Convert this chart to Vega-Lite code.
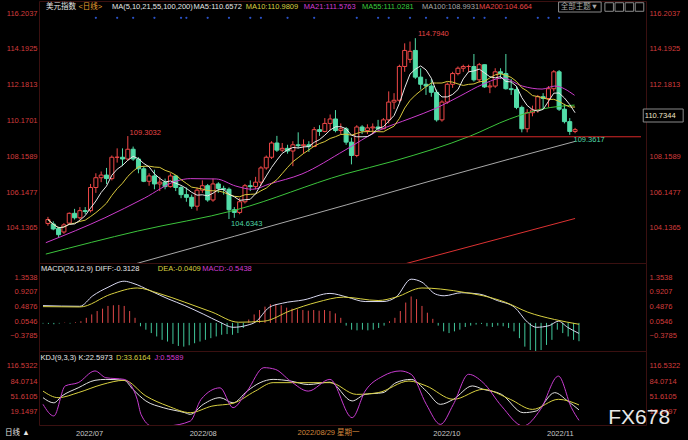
{
"$schema": "https://vega.github.io/schema/vega-lite/v6.json",
"background": "#000000",
"padding": 0,
"spacing": 0,
"bounds": "flush",
"config": {
  "font": "Liberation Sans, Noto Sans CJK SC",
  "view": {"stroke": "#3a1010"},
  "axis": {"grid": false, "ticks": false, "domain": false, "labelFontSize": 7.5, "labelColor": "#d23c3c", "labelFont": "Liberation Sans"},
  "text": {"fontSize": 7.5, "align": "left", "baseline": "middle"}
},
"datasets": {
  "k": [
    {"i":0,"o":104.38,"h":104.75,"l":104.25,"c":104.6,"m":-0.02},
    {"i":1,"o":104.35,"h":104.5,"l":104.0,"c":104.07,"m":-0.03},
    {"i":2,"o":104.1,"h":104.2,"l":103.6,"c":103.75,"m":-0.04},
    {"i":3,"o":103.9,"h":104.4,"l":103.8,"c":104.3,"m":-0.02},
    {"i":4,"o":104.4,"h":105.0,"l":104.3,"c":104.95,"m":0.01},
    {"i":5,"o":104.95,"h":105.2,"l":104.6,"c":104.7,"m":-0.02},
    {"i":6,"o":104.7,"h":105.3,"l":104.6,"c":105.1,"m":0.02},
    {"i":7,"o":105.1,"h":105.3,"l":104.9,"c":105.05,"m":0.05},
    {"i":8,"o":105.1,"h":106.6,"l":105.0,"c":106.4,"m":0.15},
    {"i":9,"o":106.4,"h":107.2,"l":106.1,"c":106.95,"m":0.25},
    {"i":10,"o":106.95,"h":107.3,"l":106.7,"c":107.1,"m":0.35},
    {"i":11,"o":107.1,"h":107.5,"l":106.6,"c":106.9,"m":0.42},
    {"i":12,"o":106.9,"h":108.2,"l":106.8,"c":108.1,"m":0.5},
    {"i":13,"o":108.1,"h":108.6,"l":107.8,"c":108.1,"m":0.52},
    {"i":14,"o":108.1,"h":108.6,"l":107.6,"c":108.0,"m":0.53},
    {"i":15,"o":108.0,"h":109.29,"l":107.9,"c":108.55,"m":0.5},
    {"i":16,"o":108.55,"h":108.7,"l":107.9,"c":108.0,"m":0.35},
    {"i":17,"o":108.0,"h":108.1,"l":107.2,"c":107.45,"m":0.15},
    {"i":18,"o":107.45,"h":107.6,"l":106.7,"c":106.75,"m":-0.1},
    {"i":19,"o":106.75,"h":107.2,"l":106.5,"c":107.05,"m":-0.2},
    {"i":20,"o":107.05,"h":107.4,"l":106.3,"c":106.6,"m":-0.3},
    {"i":21,"o":106.6,"h":107.0,"l":106.2,"c":106.7,"m":-0.4},
    {"i":22,"o":106.7,"h":106.9,"l":106.3,"c":106.45,"m":-0.5},
    {"i":23,"o":106.45,"h":107.2,"l":106.4,"c":107.05,"m":-0.55},
    {"i":24,"o":107.05,"h":107.1,"l":106.2,"c":106.4,"m":-0.62},
    {"i":25,"o":106.4,"h":106.5,"l":105.8,"c":106.0,"m":-0.68},
    {"i":26,"o":106.0,"h":106.4,"l":105.6,"c":105.85,"m":-0.7},
    {"i":27,"o":105.85,"h":106.0,"l":105.2,"c":105.35,"m":-0.66},
    {"i":28,"o":105.35,"h":106.4,"l":105.1,"c":106.25,"m":-0.6},
    {"i":29,"o":106.25,"h":106.8,"l":106.1,"c":106.5,"m":-0.55},
    {"i":30,"o":106.5,"h":106.6,"l":105.6,"c":105.7,"m":-0.5},
    {"i":31,"o":105.7,"h":106.9,"l":105.6,"c":106.6,"m":-0.45},
    {"i":32,"o":106.6,"h":106.7,"l":106.1,"c":106.35,"m":-0.4},
    {"i":33,"o":106.35,"h":106.5,"l":106.0,"c":106.3,"m":-0.35},
    {"i":34,"o":106.3,"h":106.4,"l":104.63,"c":105.15,"m":-0.33},
    {"i":35,"o":105.15,"h":105.3,"l":104.7,"c":105.0,"m":-0.35},
    {"i":36,"o":105.0,"h":105.8,"l":104.9,"c":105.6,"m":-0.3},
    {"i":37,"o":105.6,"h":106.6,"l":105.5,"c":106.5,"m":-0.15},
    {"i":38,"o":106.5,"h":106.8,"l":106.2,"c":106.45,"m":0.1},
    {"i":39,"o":106.45,"h":107.0,"l":106.3,"c":106.7,"m":0.25},
    {"i":40,"o":106.7,"h":107.6,"l":106.5,"c":107.5,"m":0.38},
    {"i":41,"o":107.5,"h":108.2,"l":107.4,"c":108.1,"m":0.48},
    {"i":42,"o":108.1,"h":109.0,"l":108.0,"c":108.9,"m":0.55},
    {"i":43,"o":108.9,"h":109.3,"l":108.4,"c":108.5,"m":0.56},
    {"i":44,"o":108.5,"h":108.9,"l":108.4,"c":108.6,"m":0.52},
    {"i":45,"o":108.6,"h":108.8,"l":108.3,"c":108.45,"m":0.45},
    {"i":46,"o":108.45,"h":109.0,"l":107.6,"c":108.8,"m":0.42},
    {"i":47,"o":108.8,"h":109.5,"l":108.6,"c":108.75,"m":0.4},
    {"i":48,"o":108.75,"h":109.1,"l":108.3,"c":108.8,"m":0.38},
    {"i":49,"o":108.8,"h":109.0,"l":108.4,"c":108.7,"m":0.36},
    {"i":50,"o":108.7,"h":109.8,"l":108.7,"c":109.65,"m":0.38},
    {"i":51,"o":109.65,"h":109.9,"l":109.3,"c":109.55,"m":0.36},
    {"i":52,"o":109.55,"h":110.3,"l":109.5,"c":110.0,"m":0.38},
    {"i":53,"o":110.0,"h":110.5,"l":109.6,"c":110.25,"m":0.35},
    {"i":54,"o":110.25,"h":110.75,"l":109.5,"c":109.6,"m":0.28},
    {"i":55,"o":109.6,"h":110.0,"l":109.4,"c":109.7,"m":0.15},
    {"i":56,"o":109.7,"h":109.8,"l":108.8,"c":108.95,"m":-0.08},
    {"i":57,"o":108.95,"h":109.2,"l":107.7,"c":108.2,"m":-0.2},
    {"i":58,"o":108.2,"h":109.9,"l":108.1,"c":109.8,"m":-0.22},
    {"i":59,"o":109.8,"h":109.9,"l":109.4,"c":109.6,"m":-0.2},
    {"i":60,"o":109.6,"h":109.95,"l":109.4,"c":109.75,"m":-0.22},
    {"i":61,"o":109.75,"h":110.0,"l":109.4,"c":109.8,"m":-0.2},
    {"i":62,"o":109.8,"h":110.2,"l":109.6,"c":109.7,"m":-0.15},
    {"i":63,"o":109.7,"h":110.3,"l":109.7,"c":110.2,"m":-0.08},
    {"i":64,"o":110.2,"h":111.8,"l":110.0,"c":111.2,"m":0.05},
    {"i":65,"o":111.2,"h":111.7,"l":110.8,"c":111.3,"m":0.15},
    {"i":66,"o":111.3,"h":113.3,"l":111.2,"c":113.2,"m":0.35},
    {"i":67,"o":113.2,"h":114.5,"l":112.9,"c":114.1,"m":0.6},
    {"i":68,"o":113.6,"h":114.6,"l":113.4,"c":114.05,"m":0.78},
    {"i":69,"o":114.1,"h":114.79,"l":112.5,"c":112.6,"m":0.7},
    {"i":70,"o":112.6,"h":113.1,"l":111.9,"c":112.2,"m":0.5},
    {"i":71,"o":112.2,"h":112.5,"l":111.6,"c":112.1,"m":0.3},
    {"i":72,"o":112.1,"h":112.5,"l":111.5,"c":111.75,"m":0.12},
    {"i":73,"o":111.75,"h":111.9,"l":110.1,"c":110.2,"m":-0.08},
    {"i":74,"o":110.2,"h":111.3,"l":110.1,"c":111.2,"m":-0.25},
    {"i":75,"o":111.2,"h":112.3,"l":111.1,"c":112.2,"m":-0.3},
    {"i":76,"o":112.2,"h":112.9,"l":112.0,"c":112.8,"m":-0.25},
    {"i":77,"o":112.8,"h":113.2,"l":112.7,"c":113.1,"m":-0.2},
    {"i":78,"o":113.1,"h":113.3,"l":112.9,"c":113.2,"m":-0.12},
    {"i":79,"o":113.2,"h":113.3,"l":112.9,"c":113.2,"m":-0.08},
    {"i":80,"o":113.2,"h":113.9,"l":112.35,"c":112.45,"m":-0.05},
    {"i":81,"o":112.45,"h":113.4,"l":112.3,"c":113.3,"m":-0.03},
    {"i":82,"o":113.3,"h":113.3,"l":112.0,"c":112.05,"m":-0.1},
    {"i":83,"o":112.05,"h":112.3,"l":111.7,"c":112.1,"m":-0.12},
    {"i":84,"o":112.1,"h":113.1,"l":112.0,"c":112.9,"m":-0.08},
    {"i":85,"o":112.9,"h":113.1,"l":112.5,"c":112.8,"m":-0.1},
    {"i":86,"o":112.8,"h":113.9,"l":111.9,"c":111.95,"m":-0.15},
    {"i":87,"o":111.95,"h":112.5,"l":111.6,"c":111.9,"m":-0.25},
    {"i":88,"o":111.9,"h":112.1,"l":110.8,"c":110.9,"m":-0.45},
    {"i":89,"o":110.9,"h":111.0,"l":109.5,"c":109.7,"m":-0.7},
    {"i":90,"o":109.7,"h":110.8,"l":109.5,"c":110.6,"m":-0.8},
    {"i":91,"o":110.6,"h":111.0,"l":110.4,"c":110.75,"m":-0.85},
    {"i":92,"o":110.75,"h":111.6,"l":110.6,"c":111.5,"m":-0.8},
    {"i":93,"o":111.5,"h":111.7,"l":110.8,"c":111.4,"m":-0.65},
    {"i":94,"o":111.4,"h":112.1,"l":110.9,"c":111.95,"m":-0.5},
    {"i":95,"o":111.95,"h":113.0,"l":111.8,"c":112.9,"m":-0.2},
    {"i":96,"o":112.9,"h":113.0,"l":110.7,"c":110.8,"m":-0.3},
    {"i":97,"o":110.8,"h":111.1,"l":110.0,"c":110.1,"m":-0.4},
    {"i":98,"o":110.1,"h":110.3,"l":109.36,"c":109.55,"m":-0.5},
    {"i":99,"o":109.55,"h":109.75,"l":109.45,"c":109.65,"m":-0.54}
  ],
  "ma": [
    {"s":"MA21","i":-0.4,"v":103.3},{"s":"MA21","i":10.7,"v":104.7},{"s":"MA21","i":18.1,"v":105.8},{"s":"MA21","i":24.2,"v":106.77},{"s":"MA21","i":26.8,"v":106.9},{"s":"MA21","i":31.6,"v":106.88},{"s":"MA21","i":35.3,"v":106.48},{"s":"MA21","i":38.4,"v":106.3},{"s":"MA21","i":41.6,"v":106.6},{"s":"MA21","i":47.7,"v":107.16},{"s":"MA21","i":55.8,"v":108.5},{"s":"MA21","i":61.9,"v":109.57},{"s":"MA21","i":68.2,"v":110.3},{"s":"MA21","i":73,"v":110.87},{"s":"MA21","i":77.4,"v":111.54},{"s":"MA21","i":81.7,"v":112.2},{"s":"MA21","i":85.4,"v":112.55},{"s":"MA21","i":89.1,"v":112.1},{"s":"MA21","i":92.8,"v":111.93},{"s":"MA21","i":95.2,"v":112.1},{"s":"MA21","i":98.9,"v":111.58},
    {"s":"MA55","i":-0.4,"v":102.66},{"s":"MA55","i":16.8,"v":103.95},{"s":"MA55","i":35.3,"v":105.14},{"s":"MA55","i":55.8,"v":107.16},{"s":"MA55","i":65,"v":107.89},{"s":"MA55","i":79.3,"v":109.29},{"s":"MA55","i":86.7,"v":110.25},{"s":"MA55","i":92.8,"v":110.81},{"s":"MA55","i":98.9,"v":111.03},
    {"s":"MA100","i":10,"v":101.57},{"s":"MA100","i":17,"v":102.16},{"s":"MA100","i":35,"v":103.66},{"s":"MA100","i":56,"v":105.42},{"s":"MA100","i":74,"v":106.95},{"s":"MA100","i":86.7,"v":108.0},{"s":"MA100","i":99,"v":108.99},
    {"s":"MA200","i":60,"v":101.55},{"s":"MA200","i":66.9,"v":102.1},{"s":"MA200","i":99,"v":104.66}
  ],
  "macdl": [
    {"s":"DIFF","i":0,"v":0.51},{"s":"DIFF","i":6.8,"v":0.49},{"s":"DIFF","i":9.2,"v":0.8},{"s":"DIFF","i":12,"v":1.05},{"s":"DIFF","i":15,"v":1.23},{"s":"DIFF","i":16.6,"v":1.17},{"s":"DIFF","i":19.8,"v":0.95},{"s":"DIFF","i":23.1,"v":0.71},{"s":"DIFF","i":26.2,"v":0.51},{"s":"DIFF","i":29.6,"v":0.26},{"s":"DIFF","i":32.7,"v":0.02},{"s":"DIFF","i":35.1,"v":-0.13},{"s":"DIFF","i":37.7,"v":-0.07},{"s":"DIFF","i":39.2,"v":0.02},{"s":"DIFF","i":41.8,"v":0.46},{"s":"DIFF","i":44.2,"v":0.58},{"s":"DIFF","i":48.2,"v":0.68},{"s":"DIFF","i":53,"v":0.87},{"s":"DIFF","i":56.2,"v":0.76},{"s":"DIFF","i":59.5,"v":0.63},{"s":"DIFF","i":62.8,"v":0.63},{"s":"DIFF","i":65.2,"v":0.76},{"s":"DIFF","i":68,"v":1.29},{"s":"DIFF","i":70,"v":1.2},{"s":"DIFF","i":72.5,"v":0.85},{"s":"DIFF","i":74.1,"v":0.8},{"s":"DIFF","i":77.3,"v":0.89},{"s":"DIFF","i":80.6,"v":0.85},{"s":"DIFF","i":83.9,"v":0.66},{"s":"DIFF","i":87.1,"v":0.46},{"s":"DIFF","i":89.5,"v":0.02},{"s":"DIFF","i":91.1,"v":-0.13},{"s":"DIFF","i":93.5,"v":-0.08},{"s":"DIFF","i":95.2,"v":0.05},{"s":"DIFF","i":96.9,"v":-0.13},{"s":"DIFF","i":99,"v":-0.31},
    {"s":"DEA","i":0,"v":0.48},{"s":"DEA","i":6.8,"v":0.47},{"s":"DEA","i":12.6,"v":0.85},{"s":"DEA","i":17.4,"v":1.03},{"s":"DEA","i":21.4,"v":0.87},{"s":"DEA","i":26.2,"v":0.61},{"s":"DEA","i":31.2,"v":0.32},{"s":"DEA","i":36.1,"v":0.02},{"s":"DEA","i":40.8,"v":0.05},{"s":"DEA","i":45.7,"v":0.36},{"s":"DEA","i":50.6,"v":0.61},{"s":"DEA","i":55.5,"v":0.76},{"s":"DEA","i":61.9,"v":0.66},{"s":"DEA","i":65.2,"v":0.76},{"s":"DEA","i":70,"v":1.03},{"s":"DEA","i":73.4,"v":1.0},{"s":"DEA","i":78.2,"v":0.89},{"s":"DEA","i":81.3,"v":0.8},{"s":"DEA","i":85.4,"v":0.61},{"s":"DEA","i":89.5,"v":0.32},{"s":"DEA","i":94.5,"v":0.1},{"s":"DEA","i":99,"v":-0.04}
  ],
  "kdj": [
    {"s":"K","i":0,"v":49},{"s":"K","i":2,"v":38},{"s":"K","i":3.5,"v":52.6},{"s":"K","i":6.5,"v":70},{"s":"K","i":9.6,"v":86},{"s":"K","i":11.6,"v":88},{"s":"K","i":15,"v":86},{"s":"K","i":16.6,"v":66.8},{"s":"K","i":19,"v":42},{"s":"K","i":22.2,"v":27.7},{"s":"K","i":26.2,"v":17},{"s":"K","i":27.2,"v":13.5},{"s":"K","i":29.6,"v":34.8},{"s":"K","i":32.7,"v":49},{"s":"K","i":35.1,"v":38},{"s":"K","i":37.7,"v":63},{"s":"K","i":40.1,"v":81},{"s":"K","i":42.5,"v":88},{"s":"K","i":45.7,"v":84.5},{"s":"K","i":49,"v":77},{"s":"K","i":53,"v":82},{"s":"K","i":57.1,"v":42},{"s":"K","i":59.5,"v":56},{"s":"K","i":62.8,"v":59.7},{"s":"K","i":65.2,"v":81},{"s":"K","i":68,"v":88},{"s":"K","i":70.8,"v":63},{"s":"K","i":73.4,"v":34.8},{"s":"K","i":75.8,"v":45.5},{"s":"K","i":79.3,"v":74},{"s":"K","i":81.3,"v":66.8},{"s":"K","i":84.7,"v":56},{"s":"K","i":88.7,"v":17},{"s":"K","i":91.1,"v":20.6},{"s":"K","i":94.5,"v":59.7},{"s":"K","i":96.9,"v":42},{"s":"K","i":99,"v":23},
    {"s":"D","i":0,"v":63},{"s":"D","i":2.8,"v":49},{"s":"D","i":6.5,"v":59.7},{"s":"D","i":10.9,"v":77},{"s":"D","i":15,"v":86},{"s":"D","i":19,"v":52.6},{"s":"D","i":23.1,"v":31},{"s":"D","i":27.2,"v":17},{"s":"D","i":31.2,"v":31},{"s":"D","i":35.1,"v":37},{"s":"D","i":39.2,"v":63},{"s":"D","i":42.5,"v":81},{"s":"D","i":47.3,"v":81},{"s":"D","i":53,"v":81},{"s":"D","i":57.9,"v":56},{"s":"D","i":61.9,"v":59.7},{"s":"D","i":67.6,"v":84.5},{"s":"D","i":70.8,"v":74},{"s":"D","i":75.8,"v":45.5},{"s":"D","i":81.3,"v":66.8},{"s":"D","i":86.3,"v":45.5},{"s":"D","i":90.4,"v":24},{"s":"D","i":95.2,"v":45.5},{"s":"D","i":99,"v":33.6},
    {"s":"J","i":0,"v":34.8},{"s":"J","i":2,"v":10},{"s":"J","i":4.1,"v":74},{"s":"J","i":6.5,"v":81},{"s":"J","i":9.6,"v":106},{"s":"J","i":11.6,"v":91.6},{"s":"J","i":15,"v":88},{"s":"J","i":17.4,"v":45.5},{"s":"J","i":18.1,"v":13.5},{"s":"J","i":20.1,"v":-11.4},{"s":"J","i":23.1,"v":-11},{"s":"J","i":27.2,"v":-1},{"s":"J","i":29.2,"v":45.5},{"s":"J","i":32.7,"v":70},{"s":"J","i":35.1,"v":27.7},{"s":"J","i":37.7,"v":63},{"s":"J","i":40.8,"v":113},{"s":"J","i":42.9,"v":109.4},{"s":"J","i":45.7,"v":84.5},{"s":"J","i":49,"v":63},{"s":"J","i":53,"v":88},{"s":"J","i":57.1,"v":6.4},{"s":"J","i":59.5,"v":63},{"s":"J","i":62.8,"v":95},{"s":"J","i":66,"v":106},{"s":"J","i":68,"v":98.8},{"s":"J","i":70.8,"v":34.8},{"s":"J","i":73.4,"v":-8},{"s":"J","i":75.8,"v":34.8},{"s":"J","i":78.6,"v":98.8},{"s":"J","i":81.3,"v":81},{"s":"J","i":84.7,"v":31},{"s":"J","i":88.7,"v":-11.4},{"s":"J","i":91.9,"v":24},{"s":"J","i":95.2,"v":95},{"s":"J","i":97.6,"v":27.7},{"s":"J","i":99,"v":0.56}
  ],
  "ev": [
    {"i":9},{"i":13},{"i":16},{"i":20},{"i":25},{"i":26},{"i":30},{"i":34},{"i":38},{"i":40},{"i":45},{"i":50},{"i":58},{"i":62},{"i":64},{"i":68},{"i":71},{"i":75},{"i":77},{"i":80},{"i":82},{"i":86},{"i":92},{"i":94},{"i":96}
  ],
  "t1": [
    {"i":-0.37,"v":116.54,"t":"美元指数","s":"w"},
    {"i":5.73,"v":116.54,"t":"<日线>","s":"o"},
    {"i":12.01,"v":116.54,"t":"MA(5,10,21,55,100,200)","s":"w"},
    {"i":27.36,"v":116.54,"t":"MA5:110.6572","s":"w"},
    {"i":37.15,"v":116.54,"t":"MA10:110.9809","s":"y"},
    {"i":48.06,"v":116.54,"t":"MA21:111.5763","s":"m"},
    {"i":58.96,"v":116.54,"t":"MA55:111.0281","s":"g"},
    {"i":70.24,"v":116.54,"t":"MA100:108.9931","s":"gr"},
    {"i":80.96,"v":116.54,"t":"MA200:104.664","s":"r"},
    {"i":96.3,"v":116.54,"t":"全部主题▼","s":"gr"},
    {"i":15.34,"v":109.46,"t":"109.3032","s":"r"},
    {"i":34.4,"v":104.35,"t":"104.6343","s":"c"},
    {"i":69.5,"v":115.02,"t":"114.7940","s":"r"},
    {"i":98.7,"v":109.07,"t":"109.3617","s":"c"},
    {"i":112.1,"v":110.44,"t":"110.7344","s":"pale"}
  ],
  "lvl": [{"i":62,"i2":111.38,"v":109.25}],
  "box": [
    {"i":111.8,"i2":119.3,"v":110.08,"v2":110.81},
    {"i":95.9,"i2":103.9,"v":116.26,"v2":116.82},
    {"i":104.6,"i2":106.2,"v":116.3,"v2":116.78},
    {"i":106.5,"i2":108.1,"v":116.3,"v2":116.78},
    {"i":108.4,"i2":110.0,"v":116.3,"v2":116.78},
    {"i":110.3,"i2":111.9,"v":116.3,"v2":116.78}
  ],
  "t2": [
    {"i":-0.37,"v":1.59,"t":"MACD(26,12,9) DIFF:-0.3128","s":"w"},
    {"i":21.2,"v":1.59,"t":"DEA:-0.0409","s":"y"},
    {"i":29.4,"v":1.59,"t":"MACD:-0.5438","s":"m"}
  ],
  "t3": [
    {"i":-0.46,"v":132.95,"t":"KDJ(9,3,3) K:22.5973","s":"w"},
    {"i":13.5,"v":132.95,"t":"D:33.6164","s":"y"},
    {"i":20.6,"v":132.95,"t":"J:0.5589","s":"m"},
    {"i":47,"v":-26,"t":"2022/08/29 星期一","s":"o"},
    {"i":-7.0,"v":-26,"t":"日线 ▲","s":"w"}
  ],
  "wm": [{"i":104.4,"v":4.6,"t":"FX678"}]
},
"vconcat": [
  {
    "width": 607, "height": 262,
    "resolve": {"axis": {"x": "independent", "y": "independent"}, "scale": {"color": "independent"}},
    "layer": [
      {
        "data": {"name": "k"},
        "mark": {"type": "rule", "strokeWidth": 1},
        "encoding": {
          "x": {"field": "i", "type": "quantitative", "scale": {"domain": [-0.74, 111.38], "nice": false, "zero": false}, "axis": null},
          "y": {"field": "l", "type": "quantitative", "scale": {"domain": [102.159, 116.878], "nice": false, "zero": false},
                "axis": {"orient": "right", "values": [104.1365,106.1477,108.1589,112.1813,114.1925,116.2037], "format": ".4f", "labelPadding": 3, "minExtent": 43, "maxExtent": 43, "title": null}},
          "y2": {"field": "h"},
          "color": {"condition": {"test": "datum.c >= datum.o", "value": "#f04848"}, "value": "#52dca8"}
        }
      },
      {
        "data": {"name": "k"},
        "mark": {"type": "bar", "size": 4, "strokeWidth": 1},
        "encoding": {
          "x": {"field": "i", "type": "quantitative", "axis": null},
          "y": {"field": "o", "type": "quantitative", "axis": null},
          "y2": {"field": "c"},
          "fill": {"condition": {"test": "datum.c >= datum.o", "value": "#000000"}, "value": "#52dca8"},
          "stroke": {"condition": {"test": "datum.c >= datum.o", "value": "#f04848"}, "value": "#52dca8"}
        }
      },
      {
        "data": {"name": "ma"},
        "mark": {"type": "line", "strokeWidth": 1, "clip": true, "interpolate": "monotone"},
        "encoding": {
          "x": {"field": "i", "type": "quantitative", "axis": null},
          "y": {"field": "v", "type": "quantitative",
                "axis": {"orient": "left", "values": [104.1365,106.1477,108.1589,110.1701,112.1813,114.1925,116.2037], "format": ".4f", "labelPadding": 2, "minExtent": 38, "maxExtent": 38, "title": null}},
          "detail": {"field": "s"},
          "color": {"field": "s", "type": "nominal", "scale": {"domain": ["MA21","MA55","MA100","MA200"], "range": ["#cc3ccc","#3cc43c","#a8a8a8","#dc3232"]}, "legend": null}
        }
      },
      {
        "data": {"name": "k"},
        "transform": [{"window": [{"op": "mean", "field": "c", "as": "m10"}], "frame": [-9, 0], "sort": [{"field": "i"}]}],
        "mark": {"type": "line", "strokeWidth": 1, "color": "#d8c83c"},
        "encoding": {
          "x": {"field": "i", "type": "quantitative", "axis": null},
          "y": {"field": "m10", "type": "quantitative", "axis": null}
        }
      },
      {
        "data": {"name": "k"},
        "transform": [{"window": [{"op": "mean", "field": "c", "as": "m5"}], "frame": [-4, 0], "sort": [{"field": "i"}]}],
        "mark": {"type": "line", "strokeWidth": 1, "color": "#e8e8e8"},
        "encoding": {
          "x": {"field": "i", "type": "quantitative", "axis": null},
          "y": {"field": "m5", "type": "quantitative", "axis": null}
        }
      },
      {
        "data": {"name": "lvl"},
        "mark": {"type": "rule", "strokeWidth": 1, "color": "#d82828"},
        "encoding": {
          "x": {"field": "i", "type": "quantitative", "axis": null},
          "x2": {"field": "i2"},
          "y": {"field": "v", "type": "quantitative", "axis": null}
        }
      },
      {
        "data": {"name": "ev"},
        "mark": {"type": "circle", "size": 5, "color": "#2a52c8", "opacity": 1},
        "encoding": {
          "x": {"field": "i", "type": "quantitative", "axis": null},
          "y": {"datum": 115.93, "type": "quantitative", "axis": null}
        }
      },
      {
        "data": {"name": "box"},
        "mark": {"type": "rect", "fill": "#000000", "stroke": "#8a8a8a", "strokeWidth": 1},
        "encoding": {
          "x": {"field": "i", "type": "quantitative", "axis": null},
          "x2": {"field": "i2"},
          "y": {"field": "v", "type": "quantitative", "axis": null},
          "y2": {"field": "v2"}
        }
      },
      {
        "data": {"name": "t1"},
        "mark": {"type": "text", "fontSize": 7.5},
        "encoding": {
          "x": {"field": "i", "type": "quantitative", "axis": null},
          "y": {"field": "v", "type": "quantitative", "axis": null},
          "text": {"field": "t"},
          "color": {"field": "s", "type": "nominal", "scale": {"domain": ["w","o","y","m","g","gr","r","c","pale"], "range": ["#e6e6e6","#e8a030","#d8d040","#d23cd2","#3cc83c","#a8a8a8","#e84646","#4fd6a6","#f0e6c8"]}, "legend": null}
        }
      }
    ]
  },
  {
    "width": 607, "height": 88,
    "resolve": {"axis": {"x": "independent", "y": "independent"}, "scale": {"color": "independent"}},
    "layer": [
      {
        "data": {"name": "k"},
        "mark": {"type": "rule", "strokeWidth": 1},
        "encoding": {
          "x": {"field": "i", "type": "quantitative", "scale": {"domain": [-0.74, 111.38], "nice": false, "zero": false}, "axis": null},
          "y": {"field": "m", "type": "quantitative", "scale": {"domain": [-0.829, 1.767], "nice": false, "zero": false},
                "axis": {"orient": "left", "values": [-0.3785,0.0546,0.4876,0.9207,1.3538], "format": ".4f", "labelPadding": 2, "minExtent": 38, "maxExtent": 38, "title": null}},
          "y2": {"datum": 0},
          "color": {"condition": {"test": "datum.m >= 0", "value": "#e04848"}, "value": "#41c79b"}
        }
      },
      {
        "data": {"name": "macdl"},
        "mark": {"type": "line", "strokeWidth": 1, "interpolate": "monotone", "clip": true},
        "encoding": {
          "x": {"field": "i", "type": "quantitative", "axis": null},
          "y": {"field": "v", "type": "quantitative",
                "axis": {"orient": "right", "values": [-0.3785,0.0546,0.4876,0.9207,1.3538], "format": ".4f", "labelPadding": 3, "minExtent": 43, "maxExtent": 43, "title": null}},
          "color": {"field": "s", "type": "nominal", "scale": {"domain": ["DIFF","DEA"], "range": ["#d8d8f0","#d8d040"]}, "legend": null}
        }
      },
      {
        "data": {"name": "t2"},
        "mark": {"type": "text", "fontSize": 7.5},
        "encoding": {
          "x": {"field": "i", "type": "quantitative", "axis": null},
          "y": {"field": "v", "type": "quantitative", "axis": null},
          "text": {"field": "t"},
          "color": {"field": "s", "type": "nominal", "scale": {"domain": ["w","y","m"], "range": ["#e6e6e6","#d8d040","#d23cd2"]}, "legend": null}
        }
      }
    ]
  },
  {
    "width": 607, "height": 74,
    "resolve": {"axis": {"x": "independent", "y": "independent"}, "scale": {"color": "independent"}},
    "layer": [
      {
        "data": {"name": "kdj"},
        "mark": {"type": "line", "strokeWidth": 1, "interpolate": "monotone", "clip": true},
        "encoding": {
          "x": {"field": "i", "type": "quantitative", "scale": {"domain": [-0.74, 111.38], "nice": false, "zero": false},
                "axis": {"orient": "bottom", "values": [6, 27, 72, 93], "labelExpr": "datum.value == 6 ? '2022/07' : datum.value == 27 ? '2022/08' : datum.value == 72 ? '2022/10' : '2022/11'", "labelAlign": "left", "labelColor": "#c8c8c8", "labelPadding": 4, "minExtent": 16, "maxExtent": 16, "title": null}},
          "y": {"field": "v", "type": "quantitative", "scale": {"domain": [-9.27, 148.51], "nice": false, "zero": false},
                "axis": {"orient": "left", "values": [19.1497,51.6105,84.0714,116.5322], "format": ".4f", "labelPadding": 2, "minExtent": 38, "maxExtent": 38, "title": null}},
          "color": {"field": "s", "type": "nominal", "scale": {"domain": ["K","D","J"], "range": ["#e0e0e0","#d8d040","#c83cd0"]}, "legend": null}
        }
      },
      {
        "data": {"name": "t3"},
        "mark": {"type": "text", "fontSize": 7.5},
        "encoding": {
          "x": {"field": "i", "type": "quantitative", "axis": null},
          "y": {"field": "v", "type": "quantitative",
                "axis": {"orient": "right", "values": [19.1497,51.6105,84.0714,116.5322], "format": ".4f", "labelPadding": 3, "minExtent": 43, "maxExtent": 43, "title": null}},
          "text": {"field": "t"},
          "color": {"field": "s", "type": "nominal", "scale": {"domain": ["w","y","m","o"], "range": ["#e6e6e6","#d8d040","#d23cd2","#d2873c"]}, "legend": null}
        }
      },
      {
        "data": {"name": "wm"},
        "mark": {"type": "text", "fontSize": 21, "color": "#e8e8e8"},
        "encoding": {
          "x": {"field": "i", "type": "quantitative", "axis": null},
          "y": {"field": "v", "type": "quantitative", "axis": null},
          "text": {"field": "t"}
        }
      }
    ]
  }
]
}
